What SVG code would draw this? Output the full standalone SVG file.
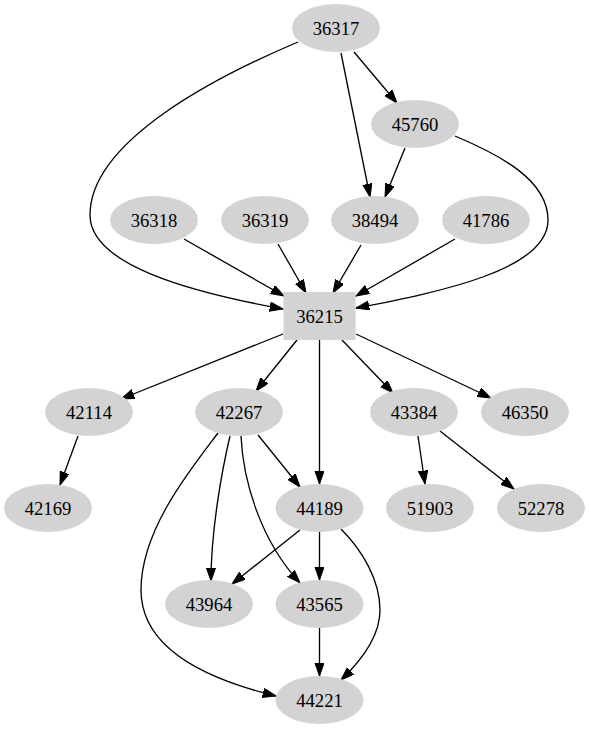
<svg xmlns="http://www.w3.org/2000/svg" width="589" height="731" viewBox="0 0 589 731">
<style>
.n{fill:#d3d3d3;stroke:none}
.t{font-family:"Liberation Serif","Times New Roman",serif;font-size:18.67px;text-anchor:middle;fill:#000}
.e{fill:none;stroke:#000;stroke-width:1.33;marker-end:url(#a)}
</style>
<defs>
<marker id="a" markerUnits="userSpaceOnUse" markerWidth="14" markerHeight="10" refX="13.3" refY="4.67" orient="auto" viewBox="0 0 14 10">
<path d="M0,0 L13.3,4.67 L0,9.33 z" fill="#000" stroke="#000" stroke-width="1"/>
</marker>
</defs>
<rect width="589" height="731" fill="#fff"/>
<g id="edges">
<path class="e" d="M354,52 L397,103"/>
<path class="e" d="M341,53 L370,197"/>
<path class="e" d="M405,148 L385,197"/>
<path class="e" d="M298,42 C220,75 90,140 90,215 C90,265 190,292 283,309"/>
<path class="e" d="M455,136 C500,155 548,180 548,220 C548,270 440,292 356,308"/>
<path class="e" d="M184,239 L284,296"/>
<path class="e" d="M278,244 L306,293"/>
<path class="e" d="M361,245 L333,293"/>
<path class="e" d="M455,239 L356,296"/>
<path class="e" d="M283,334 L121,399"/>
<path class="e" d="M297,340 L256,391"/>
<path class="e" d="M319.5,340 L319.5,484"/>
<path class="e" d="M342,340 L393,393"/>
<path class="e" d="M356,334 L491,398"/>
<path class="e" d="M78,436 L60,485"/>
<path class="e" d="M258,435 L300,487"/>
<path class="e" d="M230,436 C222,470 211,530 211,581"/>
<path class="e" d="M241,436 C243,480 260,540 300,583"/>
<path class="e" d="M218,433 C190,470 141,530 141,590 C141,650 210,680 276,696"/>
<path class="e" d="M300,530 L232,584"/>
<path class="e" d="M319.5,532 L319.5,580"/>
<path class="e" d="M341,529 C362,550 380,580 380,610 C380,635 362,660 341,680"/>
<path class="e" d="M319.5,628 L319.5,676"/>
<path class="e" d="M418,436 L425,484"/>
<path class="e" d="M440,431 L514,489"/>
</g>
<g id="n36317"><ellipse class="n" cx="336" cy="28" rx="44" ry="24"/><text class="t" x="336" y="34.5">36317</text></g>
<g id="n45760"><ellipse class="n" cx="415" cy="124" rx="44" ry="24"/><text class="t" x="415" y="130.5">45760</text></g>
<g id="n36318"><ellipse class="n" cx="154" cy="220" rx="44" ry="24"/><text class="t" x="154" y="226.5">36318</text></g>
<g id="n36319"><ellipse class="n" cx="265" cy="220" rx="44" ry="24"/><text class="t" x="265" y="226.5">36319</text></g>
<g id="n38494"><ellipse class="n" cx="375" cy="220" rx="44" ry="24"/><text class="t" x="375" y="226.5">38494</text></g>
<g id="n41786"><ellipse class="n" cx="486" cy="220" rx="44" ry="24"/><text class="t" x="486" y="226.5">41786</text></g>
<g id="n36215"><rect class="n" x="283.5" y="292" width="72" height="48"/><text class="t" x="319.5" y="322.5">36215</text></g>
<g id="n42114"><ellipse class="n" cx="89" cy="412" rx="44" ry="24"/><text class="t" x="89" y="418.5">42114</text></g>
<g id="n42267"><ellipse class="n" cx="239" cy="412" rx="44" ry="24"/><text class="t" x="239" y="418.5">42267</text></g>
<g id="n43384"><ellipse class="n" cx="414" cy="412" rx="44" ry="24"/><text class="t" x="414" y="418.5">43384</text></g>
<g id="n46350"><ellipse class="n" cx="525" cy="412" rx="44" ry="24"/><text class="t" x="525" y="418.5">46350</text></g>
<g id="n42169"><ellipse class="n" cx="48" cy="508" rx="44" ry="24"/><text class="t" x="48" y="514.5">42169</text></g>
<g id="n44189"><ellipse class="n" cx="319.5" cy="508" rx="44" ry="24"/><text class="t" x="319.5" y="514.5">44189</text></g>
<g id="n51903"><ellipse class="n" cx="430" cy="508" rx="44" ry="24"/><text class="t" x="430" y="514.5">51903</text></g>
<g id="n52278"><ellipse class="n" cx="541" cy="508" rx="44" ry="24"/><text class="t" x="541" y="514.5">52278</text></g>
<g id="n43964"><ellipse class="n" cx="209" cy="604" rx="44" ry="24"/><text class="t" x="209" y="610.5">43964</text></g>
<g id="n43565"><ellipse class="n" cx="319.5" cy="604" rx="44" ry="24"/><text class="t" x="319.5" y="610.5">43565</text></g>
<g id="n44221"><ellipse class="n" cx="319.5" cy="700" rx="44" ry="24"/><text class="t" x="319.5" y="706.5">44221</text></g>
</svg>
